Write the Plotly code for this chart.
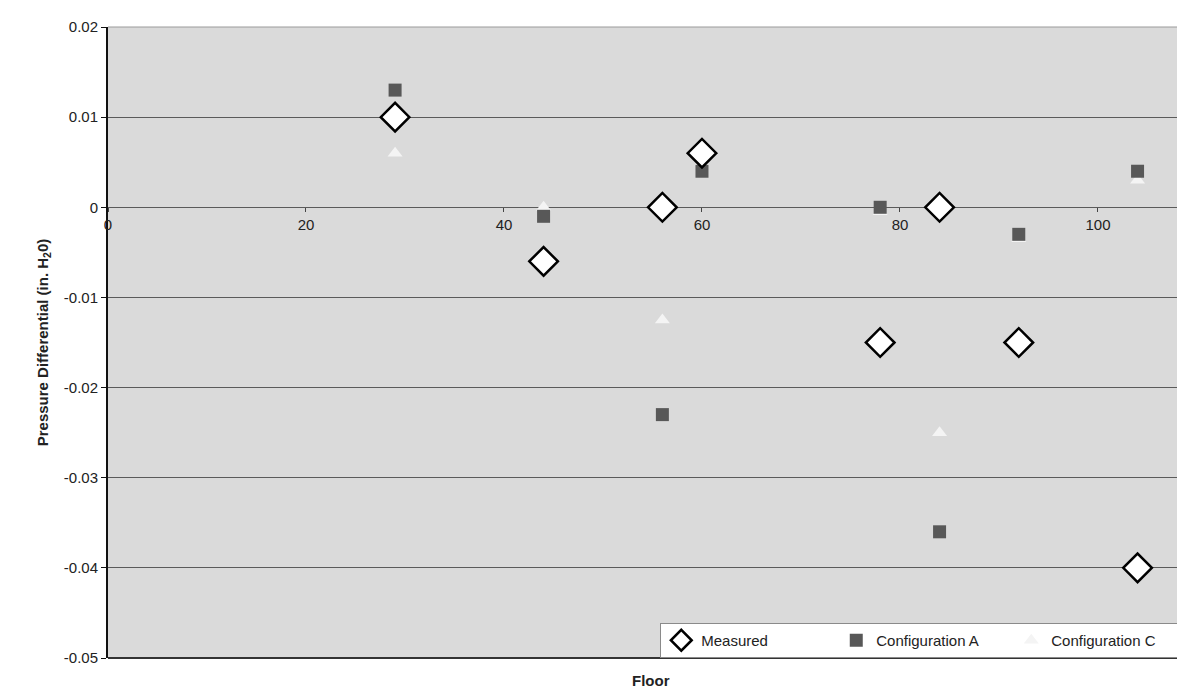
import plotly.graph_objects as go

# floors and pressure differentials (in. H2O)
floors = [29, 44, 56, 60, 78, 84, 92, 104]
measured = [0.010, -0.006, 0.000, 0.006, -0.015, 0.000, -0.015, -0.040]
config_a = [0.013, -0.001, -0.023, 0.004, 0.000, -0.036, -0.003, 0.004]
config_c = [0.006, 0.000, -0.0125, 0.005, -0.0005, -0.025, -0.0035, 0.003]

x_ticks = [0, 20, 40, 60, 80, 100]
y_ticks = [0.02, 0.01, 0, -0.01, -0.02, -0.03, -0.04, -0.05]

fig = go.Figure()

fig.add_trace(go.Scatter(x=floors, y=config_c, mode="markers", name="Configuration C",
                         marker=dict(symbol="triangle-up", size=13, color="#f4f4f4",
                                     line=dict(width=0))))
fig.add_trace(go.Scatter(x=floors, y=config_a, mode="markers", name="Configuration A",
                         marker=dict(symbol="square", size=13, color="#585858",
                                     line=dict(width=0))))
fig.add_trace(go.Scatter(x=floors, y=measured, mode="markers", name="Measured",
                         marker=dict(symbol="diamond", size=22, color="white",
                                     line=dict(width=2.5, color="black"))))

# plot border lines (bottom and top)
fig.add_shape(type="line", xref="paper", yref="paper", x0=0, x1=1, y0=0, y1=0,
              line=dict(color="#333333", width=2))
fig.add_shape(type="line", xref="paper", yref="paper", x0=0, x1=1, y0=1, y1=1,
              line=dict(color="#9a9a9a", width=1))

fig.update_layout(
    width=1185, height=692,
    margin=dict(l=100, r=0, t=19, b=42, autoexpand=False),
    paper_bgcolor="white",
    plot_bgcolor="#dadada",
    font=dict(family="Liberation Sans, Arial", size=15, color="#222222"),
    legend=dict(orientation="h", x=0.509, y=0, xanchor="left", yanchor="bottom",
                bgcolor="white", bordercolor="#8a8a8a", borderwidth=1,
                traceorder="reversed", font=dict(size=15), itemwidth=30,
                entrywidthmode="pixels", entrywidth=130),
    showlegend=True,
)

fig.update_xaxes(range=[0, 109.6], tickvals=x_ticks, showgrid=False, zeroline=False,
                 anchor="free", position=(0 + 0.05) / 0.07,
                 ticks="outside", ticklen=4, tickcolor="#444444",
                 showline=False, tickfont=dict(size=15))

fig.update_yaxes(range=[-0.05, 0.02], tickvals=y_ticks,
                 ticktext=[("%g" % v) for v in y_ticks],
                 showgrid=True, gridcolor="#5a5a5a", gridwidth=1,
                 zeroline=False, showline=True, linecolor="#111111", linewidth=2,
                 ticks="outside", ticklen=5, tickcolor="#111111",
                 tickfont=dict(size=15),
                 title=dict(text="<b>Pressure Differential (in. H<sub>2</sub>0)</b>",
                            font=dict(size=15), standoff=12))

fig.add_annotation(text="<b>Floor</b>", xref="paper", yref="paper",
                   x=0.5, y=0, yshift=-33, showarrow=False, font=dict(size=15))

fig.write_html("out.html")
